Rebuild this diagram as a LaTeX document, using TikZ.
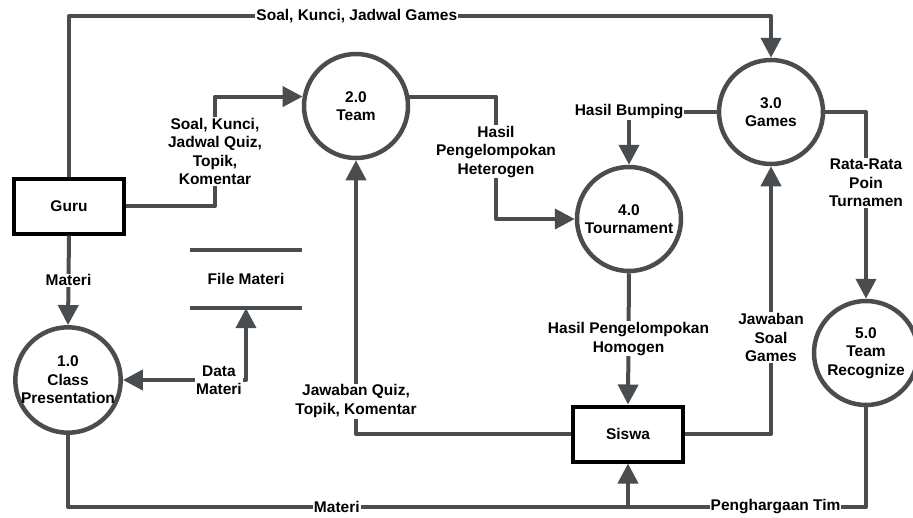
\documentclass[tikz,border=0pt]{standalone}
\usepackage{fontspec}
\setmainfont{Liberation Sans}
\usetikzlibrary{arrows.meta, positioning}
\definecolor{dfdgray}{RGB}{74,77,79}

\begin{document}
\begin{tikzpicture}[x=1pt, y=-1pt, >={Triangle[length=20pt,width=20pt]},
  font=\fontsize{15.5}{18.5}\selectfont\bfseries,
  proc/.style={circle,draw=dfdgray,line width=4.5pt,minimum size=104pt,inner sep=0pt,align=center,fill=white},
  ent/.style={draw=black,line width=4pt,minimum width=110pt,minimum height=55pt,fill=white},
  flow/.style={draw=dfdgray,line width=4pt,line join=round,->},
  lbl/.style={fill=white,inner sep=1pt,align=center}]
  \useasboundingbox (0,0) rectangle (913,517);
  \fill[white] (0,0) rectangle (913,517);

  % external entities
  \node[ent] (guru) at (69,206) {Guru};
  \node[ent] (siswa) at (628,434) {Siswa};

  % processes
  \node[proc] (presentasi) at (68,380) {1.0\\Class\\Presentation};
  \node[proc] (team) at (356,106) {2.0\\Team};
  \node[proc] (games) at (771,112) {3.0\\Games};
  \node[proc] (tournament) at (629,219) {4.0\\Tournament};
  \node[proc] (recognize) at (866,353) {5.0\\Team\\Recognize};

  % data store
  \node[minimum width=112pt, minimum height=58pt] (file) at (246,279) {File Materi};
  \draw[dfdgray, line width=4pt] (file.north west) -- (file.north east)
    (file.south west) -- (file.south east);

  % flows
  \draw[flow] (guru.north) -- (guru.north |- 0,16)
    -- node[lbl, pos=0.41] {Soal, Kunci, Jadwal Games} (games.north |- 0,16) -- (games.north);
  \draw[flow] (guru.east) -- (guru.east -| 215,0)
    -- node[lbl] {Soal, Kunci,\\Jadwal Quiz,\\Topik,\\Komentar} (team.170 -| 215,0) -- (team.170);
  \draw[flow] (team.10) -- (team.10 -| 496,0)
    -- node[lbl, pos=0.45] {Hasil\\Pengelompokan\\Heterogen} (tournament.west -| 496,0) -- (tournament.west);
  \draw[flow] (games.west) -- (tournament.north |- games.west) node[lbl] {Hasil Bumping}
    -- (tournament.north);
  \draw[flow] (games.east) -| node[lbl, pos=0.69] {Rata-Rata\\Poin\\Turnamen} (recognize.north);
  \draw[flow] (tournament.south) -- node[lbl] {Hasil Pengelompokan\\Homogen} (siswa.north);
  \draw[flow] (siswa.east) -| node[lbl, pos=0.68] {Jawaban\\Soal\\Games} (games.south);
  \draw[flow] (siswa.west) -| node[lbl, pos=0.56] {Jawaban Quiz,\\Topik, Komentar} (team.south);
  \draw[flow] (guru.south) -- node[lbl] {Materi} (presentasi.north);
  \draw[flow, <->] (presentasi.east) -- node[lbl, pos=0.78] {Data\\Materi}
    (presentasi.east -| file.south) -- (file.south);

  \coordinate (gabung) at (siswa.south |- 0,507);
  \draw[flow] (presentasi.south) |- node[lbl, pos=0.74] {Materi} (gabung) -- (siswa.south);
  \draw[flow, -] (recognize.south) |- node[lbl, pos=0.69] {Penghargaan Tim} (gabung);
\end{tikzpicture}
\end{document}
